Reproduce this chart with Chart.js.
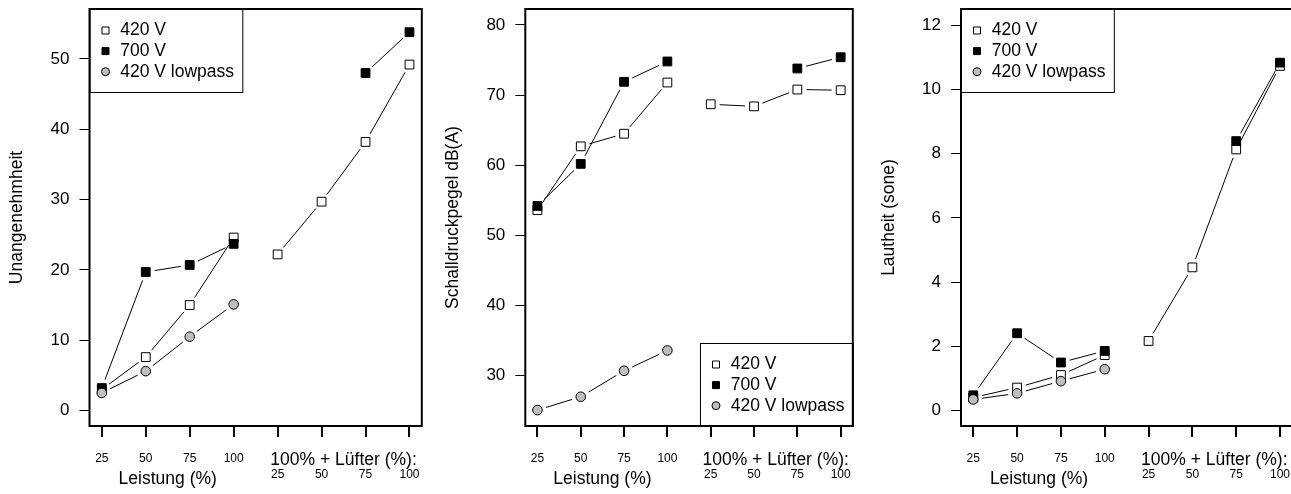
<!DOCTYPE html>
<html>
<head>
  <meta charset="utf-8">
  <title>Unangenehmheit, Schalldruckpegel, Lautheit</title>
  <script src="https://cdn.jsdelivr.net/npm/chart.js"></script>
  <style>
    body {
      margin: 0;
      background: #ffffff;
      width: 1291px;
      height: 494px;
      overflow: hidden;
      position: relative;
    }
    canvas {
      position: absolute;
      top: 0;
    }
  </style>
</head>
<body>
  <canvas id="c1" width="430" height="494" style="left:0px"></canvas>
  <canvas id="c2" width="430" height="494" style="left:430px"></canvas>
  <canvas id="c3" width="440" height="494" style="left:860px"></canvas>

  <script>
    // x positions: 4 x Leistung, then 4 x (100% + Lüfter)
    const positions = [1, 2, 3, 4, 5, 6, 7, 8];
    const leistungLabels = ['25', '50', '75', '100'];
    const luefterLabels = ['25', '50', '75', '100'];
    const groupTitles = ['Leistung (%)', '100% + Lüfter (%):'];
    const seriesNames = ['420 V', '700 V', '420 V lowpass'];

    // Unangenehmheit
    const unan420 = [3.0, 7.6, 15.0, 24.6, 22.2, 29.7, 38.2, 49.2];
    const unan700 = [3.2, 19.7, 20.7, 23.7, null, null, 48.0, 53.8];
    const unanLow = [2.5, 5.6, 10.5, 15.1, null, null, null, null];
    const unanTicks = [0, 10, 20, 30, 40, 50];

    // Schalldruckpegel dB(A)
    const schall420 = [53.6, 62.7, 64.5, 71.8, 68.7, 68.4, 70.8, 70.7];
    const schall700 = [54.2, 60.2, 71.9, 74.8, null, null, 73.8, 75.4];
    const schallLow = [25.1, 27.0, 30.7, 33.6, null, null, null, null];
    const schallTicks = [30, 40, 50, 60, 70, 80];

    // Lautheit (sone)
    const laut420 = [0.41, 0.72, 1.11, 1.73, 2.17, 4.46, 8.13, 10.73];
    const laut700 = [0.48, 2.41, 1.50, 1.86, null, null, 8.39, 10.83];
    const lautLow = [0.35, 0.54, 0.92, 1.29, null, null, null, null];
    const lautTicks = [0, 2, 4, 6, 8, 10, 12];

    const FONT = '"Liberation Sans", Arial, Helvetica, sans-serif';
    Chart.defaults.font.family = FONT;
    Chart.defaults.color = '#000';

    const seriesStyle = [
      { pointStyle: 'rect', radius: 6.2, fill: '#ffffff', order: 3 },
      { pointStyle: 'rect', radius: 6.2, fill: '#000000', order: 2 },
      { pointStyle: 'circle', radius: 4.8, fill: '#bebebe', order: 1 }
    ];

    // lines like R type="b": segments stop short of the points
    const gappedLines = {
      id: 'gappedLines',
      beforeDatasetsDraw(chart) {
        const ctx = chart.ctx;
        const gap = 9;
        ctx.save();
        ctx.strokeStyle = '#000';
        ctx.lineWidth = 1;
        chart.data.datasets.forEach((ds, d) => {
          const pts = chart.getDatasetMeta(d).data;
          for (let i = 0; i < ds.data.length - 1; i++) {
            if (i === 3) continue; // groups are not joined
            if (ds.data[i].y == null || ds.data[i + 1].y == null) continue;
            const a = pts[i], b = pts[i + 1];
            const dx = b.x - a.x, dy = b.y - a.y;
            const len = Math.hypot(dx, dy);
            if (len <= 2 * gap) continue;
            const ux = dx / len, uy = dy / len;
            ctx.beginPath();
            ctx.moveTo(a.x + ux * gap, a.y + uy * gap);
            ctx.lineTo(b.x - ux * gap, b.y - uy * gap);
            ctx.stroke();
          }
        });
        ctx.restore();
      }
    };

    function drawLegend(chart, corner) {
      const ctx = chart.ctx;
      const a = chart.chartArea;
      ctx.save();
      ctx.font = '17.5px ' + FONT;
      const w = 39 + Math.max(...seriesNames.map(n => ctx.measureText(n).width));
      const h = 83;
      const x0 = corner === 'tl' ? a.left : a.right - w;
      const y0 = corner === 'tl' ? a.top : a.bottom - h;
      ctx.fillStyle = '#fff';
      ctx.fillRect(x0, y0, w, h);
      ctx.strokeStyle = '#000';
      ctx.lineWidth = 1;
      ctx.strokeRect(x0 + 0.5, y0 + 0.5, w, h);
      seriesNames.forEach((name, i) => {
        const my = y0 + 21.5 + i * 20.6;
        const mx = x0 + 16;
        ctx.fillStyle = seriesStyle[i].fill;
        ctx.beginPath();
        if (seriesStyle[i].pointStyle === 'circle') {
          ctx.arc(mx, my, 4, 0, Math.PI * 2);
        } else {
          ctx.rect(mx - 3.5, my - 3.5, 7, 7);
        }
        ctx.fill();
        ctx.stroke();
        ctx.fillStyle = '#000';
        ctx.textAlign = 'left';
        ctx.textBaseline = 'middle';
        ctx.fillText(name, x0 + 30.7, my);
      });
      ctx.restore();
    }

    // legend, plot box and the two group titles under the x axis
    const frame = {
      id: 'frame',
      afterDraw(chart, args, opts) {
        const ctx = chart.ctx;
        const a = chart.chartArea;
        const xs = chart.scales.x;
        drawLegend(chart, opts.corner);
        ctx.save();
        ctx.strokeStyle = '#000';
        ctx.lineWidth = 2;
        ctx.strokeRect(a.left, a.top, a.right - a.left, a.bottom - a.top);
        ctx.fillStyle = '#000';
        ctx.font = '17.5px ' + FONT;
        ctx.textAlign = 'center';
        ctx.textBaseline = 'alphabetic';
        ctx.fillText(groupTitles[0], xs.getPixelForValue(2.5), 484);
        ctx.fillText(groupTitles[1], xs.getPixelForValue(6.5), 464.5);
        ctx.restore();
      }
    };

    function makePanel(id, cfg) {
      return new Chart(document.getElementById(id), {
        type: 'line',
        data: {
          datasets: cfg.series.map((vals, s) => ({
            label: seriesNames[s],
            data: vals.map((v, i) => ({ x: positions[i], y: v })),
            showLine: false,
            pointStyle: seriesStyle[s].pointStyle,
            pointRadius: seriesStyle[s].radius,
            pointBackgroundColor: seriesStyle[s].fill,
            pointBorderColor: '#000',
            pointBorderWidth: 1,
            order: seriesStyle[s].order
          }))
        },
        options: {
          responsive: false,
          animation: false,
          devicePixelRatio: 1,
          events: [],
          layout: { padding: { top: 9, right: cfg.padRight, bottom: 0, left: 0 } },
          plugins: {
            legend: { display: false },
            tooltip: { enabled: false },
            frame: { corner: cfg.legendCorner }
          },
          scales: {
            x: {
              type: 'linear',
              min: 0.72,
              max: 8.28,
              afterBuildTicks: s => { s.ticks = positions.map(v => ({ value: v })); },
              afterFit: s => { s.height = 68; s.paddingLeft = 0; s.paddingRight = 0; },
              border: { display: false },
              grid: { drawOnChartArea: false, drawTicks: true, tickLength: 11, lineWidth: 2, color: '#000' },
              ticks: {
                autoSkip: false,
                maxRotation: 0,
                minRotation: 0,
                padding: 14,
                font: { size: 12, lineHeight: 16 / 12 },
                callback: (v, i) => i < 4 ? leistungLabels[i] : ['', luefterLabels[i - 4]]
              }
            },
            y: {
              min: cfg.yMin,
              max: cfg.yMax,
              afterBuildTicks: s => { s.ticks = cfg.ticks.map(v => ({ value: v })); },
              afterFit: s => { s.width = cfg.axisWidth; s.paddingTop = 0; s.paddingBottom = 0; },
              border: { display: false },
              grid: { drawOnChartArea: false, drawTicks: true, tickLength: 10, lineWidth: 1, color: '#000' },
              ticks: { padding: 10, font: { size: 17 } },
              title: {
                display: true,
                text: cfg.title,
                font: { size: 17.5 },
                padding: { top: cfg.axisWidth - 72 - 10.5, bottom: 0 }
              }
            }
          }
        },
        plugins: [gappedLines, frame]
      });
    }

    makePanel('c1', {
      series: [unan420, unan700, unanLow],
      ticks: unanTicks,
      yMin: -2.2, yMax: 57.1,
      axisWidth: 89.5, padRight: 8.2,
      title: 'Unangenehmheit',
      legendCorner: 'tl'
    });

    makePanel('c2', {
      series: [schall420, schall700, schallLow],
      ticks: schallTicks,
      yMin: 22.83, yMax: 82.28,
      axisWidth: 95.3, padRight: 3,
      title: 'Schalldruckpegel dB(A)',
      legendCorner: 'br'
    });

    makePanel('c3', {
      series: [laut420, laut700, lautLow],
      ticks: lautTicks,
      yMin: -0.476, yMax: 12.5,
      axisWidth: 101, padRight: 7.7,
      title: 'Lautheit (sone)',
      legendCorner: 'tl'
    });
  </script>
</body>
</html>
